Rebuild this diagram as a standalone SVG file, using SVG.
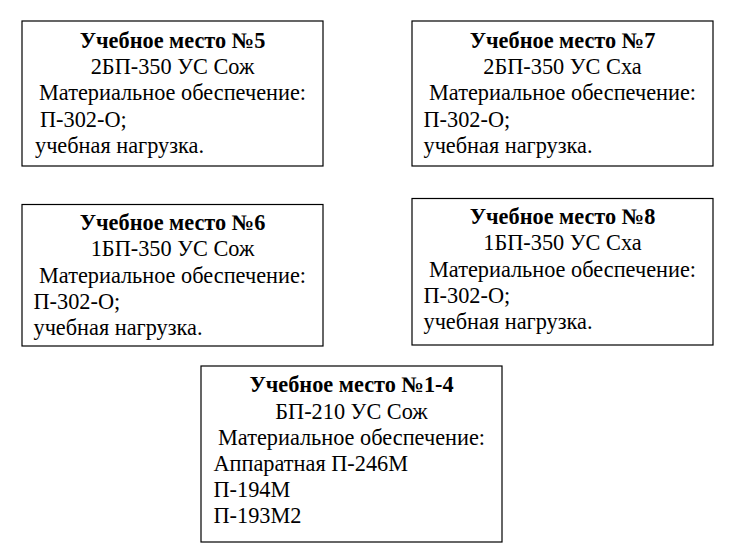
<svg xmlns="http://www.w3.org/2000/svg" width="731" height="557" viewBox="0 0 731 557">
  <style>
    .box { fill: #ffffff; stroke: #000000; stroke-width: 1.2; }
    text { font-family: "Liberation Serif", "DejaVu Serif", serif; font-size: 22.3px; fill: #000000; }
    .t { font-weight: bold; text-anchor: middle; }
    .c { text-anchor: middle; }
  </style>
  <rect width="731" height="557" fill="#ffffff"/>

  <g id="place-5">
    <rect class="box" x="22" y="21" width="301" height="145"/>
    <text class="t" x="172.5" y="48">Учебное место №5</text>
    <text class="c" x="172.5" y="74">2БП-350 УС Сож</text>
    <text class="c" x="172.5" y="100">Материальное обеспечение:</text>
    <text x="40" y="127">П-302-О;</text>
    <text x="35" y="153">учебная нагрузка.</text>
  </g>

  <g id="place-7">
    <rect class="box" x="412" y="21" width="301" height="145"/>
    <text class="t" x="562.5" y="48">Учебное место №7</text>
    <text class="c" x="562.5" y="74">2БП-350 УС Сха</text>
    <text class="c" x="562.5" y="100">Материальное обеспечение:</text>
    <text x="423.5" y="127">П-302-О;</text>
    <text x="423.5" y="153">учебная нагрузка.</text>
  </g>

  <g id="place-6">
    <rect class="box" x="22" y="204.5" width="301" height="141.5"/>
    <text class="t" x="172.5" y="230">Учебное место №6</text>
    <text class="c" x="172.5" y="256">1БП-350 УС Сож</text>
    <text class="c" x="172.5" y="283">Материальное обеспечение:</text>
    <text x="33.5" y="309">П-302-О;</text>
    <text x="33.5" y="335">учебная нагрузка.</text>
  </g>

  <g id="place-8">
    <rect class="box" x="412" y="198.5" width="301" height="146.5"/>
    <text class="t" x="562.5" y="224">Учебное место №8</text>
    <text class="c" x="562.5" y="250">1БП-350 УС Сха</text>
    <text class="c" x="562.5" y="277">Материальное обеспечение:</text>
    <text x="423.5" y="303">П-302-О;</text>
    <text x="423.5" y="329">учебная нагрузка.</text>
  </g>

  <g id="place-1-4">
    <rect class="box" x="201" y="366" width="301" height="176"/>
    <text class="t" x="351.5" y="392">Учебное место №1-4</text>
    <text class="c" x="351.5" y="419">БП-210 УС Сож</text>
    <text class="c" x="351.5" y="445">Материальное обеспечение:</text>
    <text x="213.5" y="471">Аппаратная П-246М</text>
    <text x="213.5" y="497">П-194М</text>
    <text x="213.5" y="523">П-193М2</text>
  </g>

  <g id="connectors"></g>
</svg>
